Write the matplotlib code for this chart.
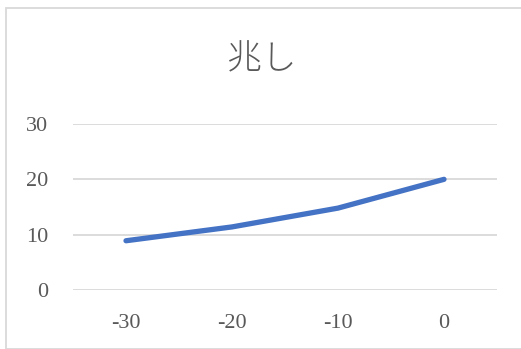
import matplotlib.pyplot as plt
from matplotlib.patches import Rectangle

categories = ['-30', '-20', '-10', '0']
values = [8.9, 11.4, 14.8, 20.0]
yticks = [0, 10, 20, 30]

W, H = 521, 349
fig = plt.figure(figsize=(W / 100, H / 100), dpi=100)

# chart area border
fig.patches.append(Rectangle((5.5 / W, 0), 1, 1 - 7.5 / H, transform=fig.transFigure,
                             fill=False, edgecolor='#d9d9d9', linewidth=1.3))

ax = fig.add_axes([73 / W, 1 - 290 / H, (497 - 73) / W, (290 - 124) / H])
xs = range(len(categories))
ax.plot(xs, values, color='#4472c4', linewidth=3.8, solid_capstyle='round',
        solid_joinstyle='round', zorder=3)

ax.set_xlim(-0.5, len(categories) - 0.5)
ax.set_ylim(0, 30)
ax.set_yticks(yticks)
ax.set_xticks(list(xs))
ax.set_xticklabels(categories)
for y in yticks:
    ax.axhline(y, color='#d9d9d9', linewidth=1.3, zorder=1)

for s in ax.spines.values():
    s.set_visible(False)
ax.tick_params(length=0, colors='#595959', labelsize=16)
ax.tick_params(axis='y', pad=18)
ax.tick_params(axis='x', pad=17)
for lab in ax.get_xticklabels() + ax.get_yticklabels():
    lab.set_fontfamily('Liberation Serif')

fig.text(262 / W, 1 - 59 / H, '兆し', ha='center', va='center', fontsize=25,
         color='#595959', family=['Noto Sans CJK JP'], fontweight='light')

fig.savefig('out.png', dpi=100)
